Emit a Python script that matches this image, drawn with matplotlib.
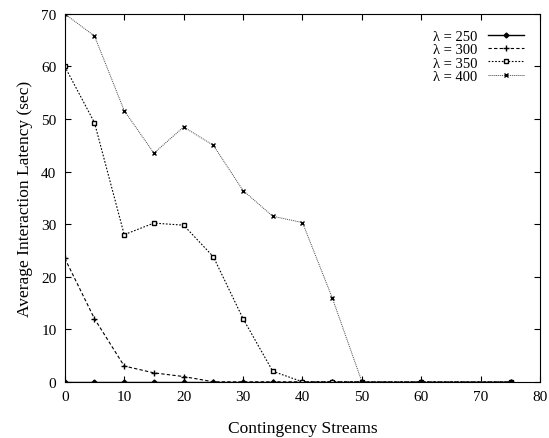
import matplotlib
matplotlib.use("Agg")
import matplotlib.pyplot as plt

streams = [0, 5, 10, 15, 20, 25, 30, 35, 40, 45, 50, 60, 75]
lat_250 = [0, 0, 0, 0, 0, 0, 0, 0, 0, 0, 0, 0, 0]
lat_300 = [23.5, 12.0, 3.0, 1.7, 1.0, 0, 0, 0, 0, 0, 0, 0, 0]
lat_350 = [60.0, 49.3, 28.0, 30.2, 29.8, 23.8, 12.0, 2.0, 0, 0, 0, 0, 0]
lat_400 = [70.0, 65.8, 51.6, 43.5, 48.5, 45.0, 36.4, 31.5, 30.3, 16.0, 0, 0, 0]

plt.rcParams["font.family"] = ["Liberation Serif", "DejaVu Serif"]

fig = plt.figure(figsize=(5.49, 4.39), dpi=100)
ax = fig.add_axes([0.118, 0.128, 0.866, 0.838])

ax.plot(streams, lat_250, color="black", linestyle="-", linewidth=1,
        marker="D", markersize=2.5, label="λ = 250")
ax.plot(streams, lat_300, color="black", linestyle=(0, (3, 2)), linewidth=0.8,
        marker="+", markersize=5, label="λ = 300")
ax.plot(streams, lat_350, color="black", linestyle=(0, (1.5, 1.5)), linewidth=0.8,
        marker="s", markersize=3.5, markerfacecolor="white", label="λ = 350")
ax.plot(streams, lat_400, color="#444444", linestyle=(0, (1, 1)), linewidth=0.7,
        marker="x", markersize=3.5, markeredgecolor="black", label="λ = 400")

ax.set_xlim(0, 80)
ax.set_ylim(0, 70)
ax.set_xticks(range(0, 81, 10))
ax.set_yticks(range(0, 71, 10))
ax.tick_params(direction="in", top=True, right=True, labelsize=11, length=4, pad=6)

ax.set_xlabel("Contingency Streams", fontsize=12.5, labelpad=12)
ax.set_ylabel("Average Interaction Latency (sec)", fontsize=12.5, labelpad=6)

ax.legend(loc="upper right", frameon=False, markerfirst=False, fontsize=10.5,
          handlelength=2.5, labelspacing=0.0, borderaxespad=0.7, handletextpad=0.7)

fig.savefig("out.png", dpi=100)
